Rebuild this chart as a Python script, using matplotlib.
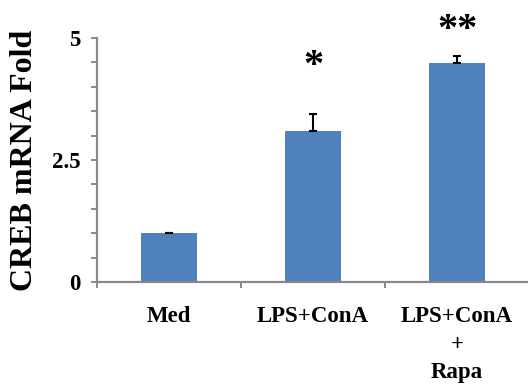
import matplotlib
matplotlib.use("Agg")
import matplotlib.pyplot as plt
import numpy as np

categories = ["Med", "LPS+ConA", "LPS+ConA\n+\nRapa"]
values = [1.0, 3.09, 4.49]
errors = [0.015, 0.35, 0.14]
stars = ["", "*", "**"]
star_y = [0, 4.42, 5.14]

plt.rcParams['font.family'] = ['Liberation Serif', 'DejaVu Serif']

fig = plt.figure(figsize=(5.28, 3.86), dpi=100)
ax = fig.add_axes([0.184, 0.269, 0.818, 0.633])

x = np.arange(len(categories))
ax.bar(x, values, width=0.39, color="#4f81bd", zorder=2)
ax.errorbar(x, values, yerr=[np.zeros(len(errors)), errors], fmt="none",
            ecolor="black", elinewidth=1.5, capsize=3, capthick=1.5, zorder=3)

for xi, s, sy in zip(x, stars, star_y):
    if s:
        ax.text(xi, sy, s, ha="center", va="center", fontsize=29,
                fontweight="bold", clip_on=False)

ax.set_xlim(-0.5, 2.5)
ax.set_ylim(0, 5)
gray = "#898989"
for side in ["top", "right"]:
    ax.spines[side].set_visible(False)
for side in ["left", "bottom"]:
    ax.spines[side].set_color(gray)
    ax.spines[side].set_linewidth(1.6)

ax.set_yticks([0, 2.5, 5])
ax.set_yticklabels(["0", "2.5", "5"])
ax.set_yticks(np.arange(0, 5.01, 0.5), minor=True)
ax.tick_params(axis="y", which="both", direction="out", length=4, width=1.4,
               color=gray, labelsize=16.5, pad=8)

ax.set_xticks(x)
ax.set_xticklabels(categories, linespacing=1.45, va="top")
ax.set_xticks([-0.5, 0.5, 1.5, 2.5], minor=True)
ax.tick_params(axis="x", which="major", length=0, labelsize=16.5, pad=17)
ax.tick_params(axis="x", which="minor", direction="out", length=4, width=1.4,
               color=gray)
for lab in ax.get_xticklabels() + ax.get_yticklabels():
    lab.set_fontweight("bold")

ax.set_ylabel("CREB mRNA Fold", fontsize=23, fontweight="bold", labelpad=9)

fig.savefig("out.png", dpi=100)
